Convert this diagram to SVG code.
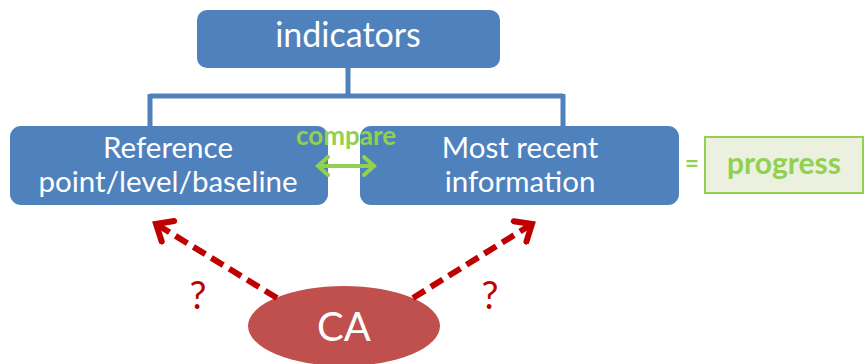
<svg xmlns="http://www.w3.org/2000/svg" width="865" height="364" viewBox="0 0 865 364">
<defs>
<style>
.box{fill:#4F81BD;}
.wt{fill:#FFFFFF;font-family:Lato,"Liberation Sans",sans-serif;text-anchor:middle;}
.gt{fill:#92D050;font-family:Lato,"Liberation Sans",sans-serif;font-weight:bold;text-anchor:middle;}
.rt{fill:#C00000;font-family:Lato,"Liberation Sans",sans-serif;text-anchor:middle;font-size:38px;}
.tree{fill:none;stroke:#4F81BD;stroke-width:5;}
.dash{fill:none;stroke:#C00000;stroke-width:6;stroke-dasharray:14 7;marker-end:url(#ah);}
</style>
<marker id="ah" markerWidth="24" markerHeight="30" refX="17" refY="15" orient="auto" markerUnits="userSpaceOnUse" viewBox="0 0 24 30">
<path d="M3,3 L17,15 L3,27" fill="none" stroke="#C00000" stroke-width="6" stroke-linecap="round" stroke-linejoin="miter"/>
</marker>
<marker id="gh" markerWidth="16" markerHeight="22" refX="12" refY="11" orient="auto-start-reverse" markerUnits="userSpaceOnUse" viewBox="0 0 16 22">
<path d="M2,2 L12,11 L2,20" fill="none" stroke="#92D050" stroke-width="4" stroke-linecap="round"/>
</marker>
</defs>
<g id="indicators">
<rect class="box" x="197" y="10" width="303" height="58" rx="10"/>
<text class="wt" x="348" y="47" font-size="34">indicators</text>
</g>
<g id="reference">
<rect class="box" x="10" y="126" width="318" height="79" rx="11"/>
<text class="wt" x="168" y="158" font-size="29.5">Reference</text>
<text class="wt" x="168" y="192" font-size="29.5">point/level/baseline</text>
</g>
<g id="recent">
<rect class="box" x="360" y="126" width="319" height="79" rx="11"/>
<text class="wt" x="520" y="158" font-size="29.5">Most recent</text>
<text class="wt" x="520" y="192" font-size="29.5">information</text>
</g>
<g id="compare">
<text class="gt" x="346" y="145" font-size="26">compare</text>
</g>
<g id="equals">
<text class="gt" x="692" y="172" font-size="24">=</text>
</g>
<g id="progress">
<rect x="705" y="137" width="158" height="56" fill="#EBF1DE" stroke="#92D050" stroke-width="2"/>
<text class="gt" x="784" y="174" font-size="30">progress</text>
</g>
<g id="ca">
<ellipse cx="344" cy="326" rx="96" ry="40" fill="#C0504D"/>
<text class="wt" x="344" y="341" font-size="40">CA</text>
</g>
<g id="questions">
<text class="rt" x="198" y="309">?</text>
<text class="rt" x="490" y="309">?</text>
</g>
<g id="connectors">
<path class="tree" d="M348,68 V96 M150,96 H563 M150,94 V126 M563,94 V126"/>
<path class="dash" d="M277,298 L156,224"/>
<path class="dash" d="M413,298 L532,224"/>
<path d="M318,166 H374" fill="none" stroke="#92D050" stroke-width="4" marker-start="url(#gh)" marker-end="url(#gh)"/>
</g>
</svg>
